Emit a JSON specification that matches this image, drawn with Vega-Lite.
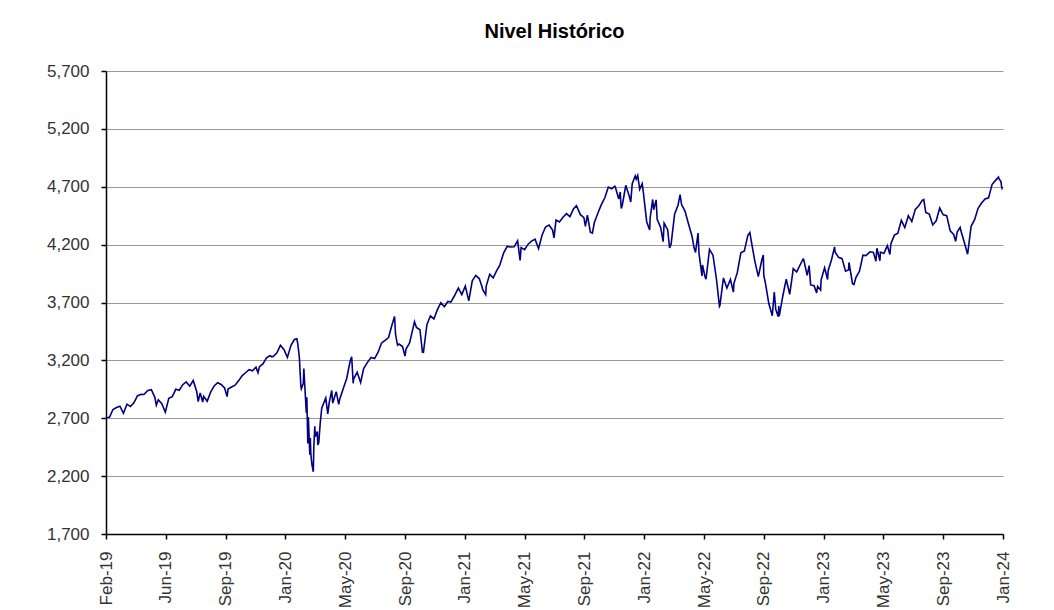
{
  "$schema": "https://vega.github.io/schema/vega-lite/v6.json",
  "width": 897,
  "height": 463,
  "autosize": {"type": "none"},
  "padding": {"left": 106, "top": 71, "right": 51, "bottom": 76},
  "background": "white",
  "title": {
    "text": "Nivel Histórico",
    "font": "Liberation Sans",
    "fontSize": 20,
    "fontWeight": "bold",
    "color": "#000000",
    "anchor": "middle",
    "offset": 20
  },
  "config": {
    "view": {"stroke": null},
    "axis": {"labelFont": "Liberation Sans", "labelFontSize": 17, "labelColor": "#333333"}
  },
  "data": {
    "values": [
      {"d": "2019-02-01", "v": 2706}, {"d": "2019-02-08", "v": 2708}, {"d": "2019-02-15", "v": 2776},
      {"d": "2019-02-22", "v": 2793}, {"d": "2019-03-01", "v": 2804}, {"d": "2019-03-08", "v": 2743},
      {"d": "2019-03-15", "v": 2822}, {"d": "2019-03-22", "v": 2801}, {"d": "2019-03-29", "v": 2834},
      {"d": "2019-04-05", "v": 2893}, {"d": "2019-04-12", "v": 2907}, {"d": "2019-04-18", "v": 2905},
      {"d": "2019-04-26", "v": 2940}, {"d": "2019-05-03", "v": 2946}, {"d": "2019-05-10", "v": 2881},
      {"d": "2019-05-13", "v": 2812}, {"d": "2019-05-17", "v": 2860}, {"d": "2019-05-24", "v": 2826},
      {"d": "2019-05-31", "v": 2752}, {"d": "2019-06-07", "v": 2873}, {"d": "2019-06-14", "v": 2887},
      {"d": "2019-06-21", "v": 2950}, {"d": "2019-06-28", "v": 2942}, {"d": "2019-07-05", "v": 2990},
      {"d": "2019-07-12", "v": 3014}, {"d": "2019-07-19", "v": 2977}, {"d": "2019-07-26", "v": 3026},
      {"d": "2019-08-02", "v": 2932}, {"d": "2019-08-05", "v": 2844}, {"d": "2019-08-09", "v": 2919},
      {"d": "2019-08-14", "v": 2840}, {"d": "2019-08-16", "v": 2889}, {"d": "2019-08-23", "v": 2847},
      {"d": "2019-08-30", "v": 2926}, {"d": "2019-09-06", "v": 2979}, {"d": "2019-09-13", "v": 3007},
      {"d": "2019-09-20", "v": 2992}, {"d": "2019-09-27", "v": 2962}, {"d": "2019-10-02", "v": 2887},
      {"d": "2019-10-04", "v": 2952}, {"d": "2019-10-11", "v": 2970}, {"d": "2019-10-18", "v": 2986},
      {"d": "2019-10-25", "v": 3023}, {"d": "2019-11-01", "v": 3067}, {"d": "2019-11-08", "v": 3093},
      {"d": "2019-11-15", "v": 3120}, {"d": "2019-11-22", "v": 3110}, {"d": "2019-11-29", "v": 3141},
      {"d": "2019-12-03", "v": 3093}, {"d": "2019-12-06", "v": 3146}, {"d": "2019-12-13", "v": 3169},
      {"d": "2019-12-20", "v": 3221}, {"d": "2019-12-27", "v": 3240}, {"d": "2019-12-31", "v": 3231},
      {"d": "2020-01-03", "v": 3235}, {"d": "2020-01-10", "v": 3265}, {"d": "2020-01-17", "v": 3330},
      {"d": "2020-01-24", "v": 3295}, {"d": "2020-01-31", "v": 3226}, {"d": "2020-02-07", "v": 3328},
      {"d": "2020-02-14", "v": 3380}, {"d": "2020-02-19", "v": 3386}, {"d": "2020-02-21", "v": 3338},
      {"d": "2020-02-24", "v": 3226}, {"d": "2020-02-27", "v": 2979}, {"d": "2020-02-28", "v": 2954},
      {"d": "2020-03-03", "v": 3003}, {"d": "2020-03-04", "v": 3130}, {"d": "2020-03-06", "v": 2972},
      {"d": "2020-03-09", "v": 2747}, {"d": "2020-03-10", "v": 2882}, {"d": "2020-03-12", "v": 2481},
      {"d": "2020-03-13", "v": 2711}, {"d": "2020-03-16", "v": 2386}, {"d": "2020-03-17", "v": 2529},
      {"d": "2020-03-18", "v": 2398}, {"d": "2020-03-20", "v": 2305}, {"d": "2020-03-23", "v": 2237},
      {"d": "2020-03-24", "v": 2447}, {"d": "2020-03-26", "v": 2630}, {"d": "2020-03-27", "v": 2541},
      {"d": "2020-03-31", "v": 2585}, {"d": "2020-04-01", "v": 2470}, {"d": "2020-04-03", "v": 2489},
      {"d": "2020-04-06", "v": 2664}, {"d": "2020-04-09", "v": 2790}, {"d": "2020-04-17", "v": 2875},
      {"d": "2020-04-21", "v": 2737}, {"d": "2020-04-24", "v": 2837}, {"d": "2020-04-29", "v": 2940},
      {"d": "2020-05-01", "v": 2831}, {"d": "2020-05-08", "v": 2930}, {"d": "2020-05-13", "v": 2820},
      {"d": "2020-05-15", "v": 2864}, {"d": "2020-05-22", "v": 2955}, {"d": "2020-05-29", "v": 3044},
      {"d": "2020-06-05", "v": 3194}, {"d": "2020-06-08", "v": 3232}, {"d": "2020-06-11", "v": 3002},
      {"d": "2020-06-12", "v": 3041}, {"d": "2020-06-19", "v": 3098}, {"d": "2020-06-26", "v": 3009},
      {"d": "2020-07-02", "v": 3130}, {"d": "2020-07-10", "v": 3185}, {"d": "2020-07-17", "v": 3225},
      {"d": "2020-07-24", "v": 3216}, {"d": "2020-07-31", "v": 3271}, {"d": "2020-08-07", "v": 3351},
      {"d": "2020-08-14", "v": 3373}, {"d": "2020-08-21", "v": 3397}, {"d": "2020-08-28", "v": 3508},
      {"d": "2020-09-02", "v": 3580}, {"d": "2020-09-04", "v": 3427}, {"d": "2020-09-08", "v": 3332},
      {"d": "2020-09-11", "v": 3341}, {"d": "2020-09-18", "v": 3319}, {"d": "2020-09-23", "v": 3237},
      {"d": "2020-09-25", "v": 3298}, {"d": "2020-10-02", "v": 3348}, {"d": "2020-10-09", "v": 3477},
      {"d": "2020-10-12", "v": 3534}, {"d": "2020-10-16", "v": 3484}, {"d": "2020-10-23", "v": 3465},
      {"d": "2020-10-28", "v": 3271}, {"d": "2020-10-30", "v": 3270}, {"d": "2020-11-04", "v": 3443},
      {"d": "2020-11-06", "v": 3509}, {"d": "2020-11-13", "v": 3585}, {"d": "2020-11-20", "v": 3558},
      {"d": "2020-11-27", "v": 3638}, {"d": "2020-12-04", "v": 3699}, {"d": "2020-12-11", "v": 3663},
      {"d": "2020-12-18", "v": 3709}, {"d": "2020-12-24", "v": 3703}, {"d": "2020-12-31", "v": 3756},
      {"d": "2021-01-08", "v": 3825}, {"d": "2021-01-15", "v": 3768}, {"d": "2021-01-22", "v": 3841},
      {"d": "2021-01-27", "v": 3751}, {"d": "2021-01-29", "v": 3714}, {"d": "2021-02-05", "v": 3887},
      {"d": "2021-02-12", "v": 3934}, {"d": "2021-02-19", "v": 3907}, {"d": "2021-02-25", "v": 3829},
      {"d": "2021-02-26", "v": 3811}, {"d": "2021-03-04", "v": 3768}, {"d": "2021-03-05", "v": 3842},
      {"d": "2021-03-12", "v": 3943}, {"d": "2021-03-19", "v": 3913}, {"d": "2021-03-26", "v": 3975},
      {"d": "2021-04-01", "v": 4020}, {"d": "2021-04-09", "v": 4129}, {"d": "2021-04-16", "v": 4185},
      {"d": "2021-04-23", "v": 4180}, {"d": "2021-04-30", "v": 4181}, {"d": "2021-05-07", "v": 4233},
      {"d": "2021-05-12", "v": 4063}, {"d": "2021-05-14", "v": 4174}, {"d": "2021-05-21", "v": 4156},
      {"d": "2021-05-28", "v": 4204}, {"d": "2021-06-04", "v": 4230}, {"d": "2021-06-11", "v": 4247},
      {"d": "2021-06-18", "v": 4166}, {"d": "2021-06-25", "v": 4281}, {"d": "2021-07-02", "v": 4352},
      {"d": "2021-07-09", "v": 4370}, {"d": "2021-07-16", "v": 4327}, {"d": "2021-07-19", "v": 4258},
      {"d": "2021-07-23", "v": 4412}, {"d": "2021-07-30", "v": 4395}, {"d": "2021-08-06", "v": 4437},
      {"d": "2021-08-13", "v": 4468}, {"d": "2021-08-20", "v": 4442}, {"d": "2021-08-27", "v": 4509},
      {"d": "2021-09-02", "v": 4537}, {"d": "2021-09-10", "v": 4459}, {"d": "2021-09-17", "v": 4433},
      {"d": "2021-09-20", "v": 4358}, {"d": "2021-09-24", "v": 4455}, {"d": "2021-09-30", "v": 4308},
      {"d": "2021-10-04", "v": 4300}, {"d": "2021-10-08", "v": 4391}, {"d": "2021-10-15", "v": 4471},
      {"d": "2021-10-22", "v": 4545}, {"d": "2021-10-29", "v": 4605}, {"d": "2021-11-05", "v": 4697},
      {"d": "2021-11-12", "v": 4683}, {"d": "2021-11-18", "v": 4705}, {"d": "2021-11-19", "v": 4698},
      {"d": "2021-11-26", "v": 4595}, {"d": "2021-11-29", "v": 4655}, {"d": "2021-11-30", "v": 4567},
      {"d": "2021-12-01", "v": 4513}, {"d": "2021-12-03", "v": 4538}, {"d": "2021-12-10", "v": 4712},
      {"d": "2021-12-17", "v": 4620}, {"d": "2021-12-20", "v": 4568}, {"d": "2021-12-23", "v": 4726},
      {"d": "2021-12-29", "v": 4793}, {"d": "2021-12-31", "v": 4766}, {"d": "2022-01-03", "v": 4797},
      {"d": "2022-01-07", "v": 4677}, {"d": "2022-01-12", "v": 4726}, {"d": "2022-01-14", "v": 4663},
      {"d": "2022-01-21", "v": 4398}, {"d": "2022-01-27", "v": 4326}, {"d": "2022-01-28", "v": 4432},
      {"d": "2022-02-02", "v": 4590}, {"d": "2022-02-04", "v": 4501}, {"d": "2022-02-09", "v": 4587},
      {"d": "2022-02-11", "v": 4419}, {"d": "2022-02-18", "v": 4349}, {"d": "2022-02-23", "v": 4225},
      {"d": "2022-02-25", "v": 4385}, {"d": "2022-03-04", "v": 4329}, {"d": "2022-03-08", "v": 4171},
      {"d": "2022-03-11", "v": 4204}, {"d": "2022-03-18", "v": 4463}, {"d": "2022-03-25", "v": 4543},
      {"d": "2022-03-29", "v": 4632}, {"d": "2022-04-01", "v": 4546}, {"d": "2022-04-08", "v": 4488},
      {"d": "2022-04-14", "v": 4393}, {"d": "2022-04-22", "v": 4272}, {"d": "2022-04-26", "v": 4175},
      {"d": "2022-04-29", "v": 4132}, {"d": "2022-05-04", "v": 4300}, {"d": "2022-05-06", "v": 4123},
      {"d": "2022-05-12", "v": 3930}, {"d": "2022-05-13", "v": 4024}, {"d": "2022-05-18", "v": 3923},
      {"d": "2022-05-20", "v": 3901}, {"d": "2022-05-27", "v": 4158}, {"d": "2022-06-03", "v": 4109},
      {"d": "2022-06-10", "v": 3901}, {"d": "2022-06-16", "v": 3667}, {"d": "2022-06-17", "v": 3675},
      {"d": "2022-06-24", "v": 3912}, {"d": "2022-07-01", "v": 3825}, {"d": "2022-07-08", "v": 3899},
      {"d": "2022-07-14", "v": 3790}, {"d": "2022-07-15", "v": 3863}, {"d": "2022-07-22", "v": 3962},
      {"d": "2022-07-29", "v": 4130}, {"d": "2022-08-05", "v": 4145}, {"d": "2022-08-12", "v": 4280},
      {"d": "2022-08-16", "v": 4305}, {"d": "2022-08-19", "v": 4228}, {"d": "2022-08-26", "v": 4058},
      {"d": "2022-09-02", "v": 3924}, {"d": "2022-09-09", "v": 4067}, {"d": "2022-09-12", "v": 4110},
      {"d": "2022-09-13", "v": 3932}, {"d": "2022-09-16", "v": 3873}, {"d": "2022-09-23", "v": 3693},
      {"d": "2022-09-30", "v": 3586}, {"d": "2022-10-04", "v": 3791}, {"d": "2022-10-07", "v": 3640},
      {"d": "2022-10-12", "v": 3577}, {"d": "2022-10-13", "v": 3670}, {"d": "2022-10-14", "v": 3583},
      {"d": "2022-10-21", "v": 3752}, {"d": "2022-10-28", "v": 3901}, {"d": "2022-11-04", "v": 3771},
      {"d": "2022-11-10", "v": 3956}, {"d": "2022-11-11", "v": 3993}, {"d": "2022-11-18", "v": 3965},
      {"d": "2022-11-25", "v": 4026}, {"d": "2022-12-01", "v": 4076}, {"d": "2022-12-02", "v": 4072},
      {"d": "2022-12-09", "v": 3934}, {"d": "2022-12-13", "v": 4019}, {"d": "2022-12-16", "v": 3852},
      {"d": "2022-12-23", "v": 3845}, {"d": "2022-12-28", "v": 3783}, {"d": "2022-12-30", "v": 3840},
      {"d": "2023-01-05", "v": 3808}, {"d": "2023-01-06", "v": 3895}, {"d": "2023-01-13", "v": 3999},
      {"d": "2023-01-19", "v": 3899}, {"d": "2023-01-20", "v": 3973}, {"d": "2023-01-27", "v": 4071},
      {"d": "2023-02-02", "v": 4180}, {"d": "2023-02-03", "v": 4136}, {"d": "2023-02-10", "v": 4090},
      {"d": "2023-02-17", "v": 4079}, {"d": "2023-02-24", "v": 3970}, {"d": "2023-03-02", "v": 3982},
      {"d": "2023-03-03", "v": 4046}, {"d": "2023-03-10", "v": 3862}, {"d": "2023-03-13", "v": 3855},
      {"d": "2023-03-17", "v": 3917}, {"d": "2023-03-24", "v": 3971}, {"d": "2023-03-31", "v": 4109},
      {"d": "2023-04-06", "v": 4105}, {"d": "2023-04-14", "v": 4138}, {"d": "2023-04-21", "v": 4133},
      {"d": "2023-04-26", "v": 4056}, {"d": "2023-04-28", "v": 4169}, {"d": "2023-05-04", "v": 4061},
      {"d": "2023-05-05", "v": 4136}, {"d": "2023-05-12", "v": 4124}, {"d": "2023-05-19", "v": 4192},
      {"d": "2023-05-24", "v": 4115}, {"d": "2023-05-26", "v": 4205}, {"d": "2023-06-02", "v": 4282},
      {"d": "2023-06-09", "v": 4299}, {"d": "2023-06-16", "v": 4410}, {"d": "2023-06-23", "v": 4348},
      {"d": "2023-06-30", "v": 4450}, {"d": "2023-07-07", "v": 4399}, {"d": "2023-07-14", "v": 4505},
      {"d": "2023-07-21", "v": 4536}, {"d": "2023-07-28", "v": 4582}, {"d": "2023-07-31", "v": 4589},
      {"d": "2023-08-04", "v": 4478}, {"d": "2023-08-11", "v": 4464}, {"d": "2023-08-18", "v": 4370},
      {"d": "2023-08-25", "v": 4406}, {"d": "2023-09-01", "v": 4516}, {"d": "2023-09-08", "v": 4457},
      {"d": "2023-09-15", "v": 4450}, {"d": "2023-09-22", "v": 4320}, {"d": "2023-09-29", "v": 4288},
      {"d": "2023-10-03", "v": 4229}, {"d": "2023-10-06", "v": 4308}, {"d": "2023-10-12", "v": 4349},
      {"d": "2023-10-13", "v": 4328}, {"d": "2023-10-20", "v": 4224}, {"d": "2023-10-27", "v": 4117},
      {"d": "2023-11-03", "v": 4358}, {"d": "2023-11-10", "v": 4415}, {"d": "2023-11-17", "v": 4514},
      {"d": "2023-11-24", "v": 4559}, {"d": "2023-12-01", "v": 4595}, {"d": "2023-12-08", "v": 4604},
      {"d": "2023-12-15", "v": 4719}, {"d": "2023-12-22", "v": 4755}, {"d": "2023-12-28", "v": 4783},
      {"d": "2023-12-29", "v": 4770}, {"d": "2024-01-02", "v": 4743}, {"d": "2024-01-03", "v": 4705},
      {"d": "2024-01-04", "v": 4688}, {"d": "2024-01-05", "v": 4697}
    ]
  },
  "mark": {"type": "line", "color": "#000080", "strokeWidth": 1.6, "clip": true},
  "encoding": {
    "x": {
      "field": "d",
      "type": "temporal",
      "scale": {
        "type": "utc",
        "domain": [
          {"year": 2019, "month": 2, "date": 1, "utc": true},
          {"year": 2024, "month": 1, "date": 6, "utc": true}
        ]
      },
      "axis": {
        "title": null,
        "values": [
          {"year": 2019, "month": 2, "date": 1, "utc": true},
          {"year": 2019, "month": 6, "date": 1, "utc": true},
          {"year": 2019, "month": 9, "date": 29, "utc": true},
          {"year": 2020, "month": 1, "date": 27, "utc": true},
          {"year": 2020, "month": 5, "date": 26, "utc": true},
          {"year": 2020, "month": 9, "date": 23, "utc": true},
          {"year": 2021, "month": 1, "date": 21, "utc": true},
          {"year": 2021, "month": 5, "date": 21, "utc": true},
          {"year": 2021, "month": 9, "date": 18, "utc": true},
          {"year": 2022, "month": 1, "date": 16, "utc": true},
          {"year": 2022, "month": 5, "date": 16, "utc": true},
          {"year": 2022, "month": 9, "date": 13, "utc": true},
          {"year": 2023, "month": 1, "date": 11, "utc": true},
          {"year": 2023, "month": 5, "date": 11, "utc": true},
          {"year": 2023, "month": 9, "date": 8, "utc": true},
          {"year": 2024, "month": 1, "date": 6, "utc": true}
        ],
        "labelExpr": "utcFormat(datum.value, '%b-%y')",
        "labelAngle": -90,
        "labelAlign": "right",
        "labelBaseline": "middle",
        "labelPadding": 12,
        "labelOverlap": false,
        "labelBound": false,
        "labelFlush": false,
        "grid": false,
        "domainColor": "#000000",
        "domainWidth": 1.5,
        "tickColor": "#000000",
        "tickSize": 5,
        "tickWidth": 1.5
      }
    },
    "y": {
      "field": "v",
      "type": "quantitative",
      "scale": {"domain": [1700, 5700], "nice": false, "zero": false},
      "axis": {
        "title": null,
        "values": [1700, 2200, 2700, 3200, 3700, 4200, 4700, 5200, 5700],
        "format": ",d",
        "labelPadding": 12,
        "labelFlush": false,
        "grid": true,
        "gridColor": "#999999",
        "gridWidth": 1.2,
        "domainColor": "#000000",
        "domainWidth": 1.5,
        "tickColor": "#000000",
        "tickSize": 5,
        "tickWidth": 1.5
      }
    }
  }
}
